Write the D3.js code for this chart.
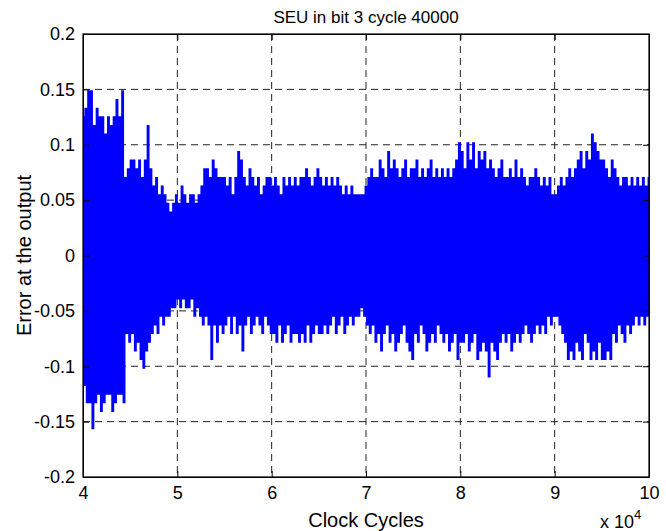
<!DOCTYPE html>
<html>
<head>
<meta charset="utf-8">
<script src="https://cdn.jsdelivr.net/npm/d3@7"></script>
<style>
  body { margin: 0; background: #fff; }
  text { font-family: "Liberation Sans", Arial, Helvetica, sans-serif; fill: #000; }
</style>
</head>
<body>
<div class="chart"></div>
<script>
// error samples, in LSBs (1 LSB = 1/128), one pair per 300 cycles
const posPeak = [
  16,17,19,19,15,17,16,16,14,16,15,16,18,16,19,
  9,10,11,11,10,11,9,11,15,10,
  8,9,7,8,7,6,5,6,
  7,6,8,7,6,7,7,6,7,8,10,10,9,11,10,9,9,
  9,8,9,7,9,12,11,9,8,10,9,8,9,7,8,9,9,
  8,9,8,7,9,8,9,8,9,8,9,9,10,9,8,9,10,
  9,8,9,8,9,8,9,8,7,8,7,8,7,7,7,7,
  8,9,10,9,9,11,10,9,12,10,11,10,9,10,11,9,10,
  10,11,9,10,9,10,11,9,10,9,10,9,10,9,10,11,13,
  12,10,13,11,13,10,12,11,12,10,11,10,9,10,11,9,
  9,10,9,11,9,10,9,8,9,9,10,9,8,9,8,9,7,
  7,8,9,8,9,10,9,10,11,12,10,12,11,14,13,12,11,
  11,10,9,11,10,9,8,9,9,8,9,8,9,8,9,8,9
]
const negPeak = [
  -15,-17,-17,-20,-17,-16,-18,-17,-16,-16,-18,-17,-16,-16,-17,
  -9,-10,-9,-11,-10,-12,-13,-11,-10,-9,
  -8,-9,-7,-8,-7,-7,-6,-6,
  -5,-6,-5,-6,-6,-5,-7,-6,-7,-8,-7,-8,-12,-8,-10,-8,-9,
  -8,-7,-9,-7,-9,-8,-11,-8,-7,-9,-8,-7,-8,-9,-7,-8,-9,
  -9,-10,-8,-10,-9,-8,-10,-9,-9,-10,-9,-10,-8,-10,-9,-8,-9,
  -9,-8,-9,-8,-7,-9,-8,-7,-9,-8,-7,-8,-7,-7,-6,-7,
  -8,-9,-8,-10,-9,-11,-9,-8,-10,-9,-11,-10,-9,-8,-10,-11,-12,
  -9,-10,-8,-9,-11,-10,-9,-10,-8,-9,-10,-9,-11,-10,-9,-12,-10,
  -10,-9,-11,-10,-9,-12,-11,-10,-11,-14,-10,-11,-12,-10,-9,-10,
  -9,-11,-10,-9,-10,-9,-8,-9,-10,-9,-8,-9,-8,-9,-7,-8,-7,
  -7,-8,-9,-10,-12,-11,-12,-10,-11,-12,-9,-10,-12,-11,-12,-10,-12,
  -12,-11,-12,-9,-10,-8,-9,-10,-8,-9,-8,-7,-8,-7,-8,-7,-8
]
const startCycle = 40000
const stepCycles = 300
const lsb = 1 / 128

const xTicks = [40000, 50000, 60000, 70000, 80000, 90000, 100000]
const xTickLabels = ['4', '5', '6', '7', '8', '9', '10']
const yTicks = [-0.2, -0.15, -0.1, -0.05, 0, 0.05, 0.1, 0.15, 0.2]
const yTickLabels = ['-0.2', '-0.15', '-0.1', '-0.05', '0', '0.05', '0.1', '0.15', '0.2']

const width = 666, height = 531
const margin = { top: 34, right: 17, bottom: 54, left: 83 }
const graphWidth = width - margin.left - margin.right
const graphHeight = height - margin.top - margin.bottom

const svg = d3.select('.chart')
  .append('svg')
  .attr('width', width)
  .attr('height', height)

const graph = svg.append('g')
  .attr('transform', `translate(${margin.left}, ${margin.top})`)

const x = d3.scaleLinear()
  .domain([40000, 100000])
  .range([0, graphWidth])

const y = d3.scaleLinear()
  .domain([-0.2, 0.2])
  .range([graphHeight, 0])

// dashed grid
const grid = graph.append('g')

grid.selectAll('line.gx')
  .data(xTicks.slice(1, -1))
  .enter().append('line')
  .attr('class', 'gx')
  .attr('x1', d => x(d)).attr('x2', d => x(d))
  .attr('y1', 0).attr('y2', graphHeight)

grid.selectAll('line.gy')
  .data(yTicks.slice(1, -1))
  .enter().append('line')
  .attr('class', 'gy')
  .attr('x1', 0).attr('x2', graphWidth)
  .attr('y1', d => y(d)).attr('y2', d => y(d))

grid.selectAll('line')
  .attr('stroke', '#222')
  .attr('stroke-width', 1)
  .attr('stroke-dasharray', '7,5')

// signal: positive and negative peak of each 300 cycle slot
const points = []
posPeak.forEach((p, i) => {
  const c = startCycle + i * stepCycles
  points.push({ c: c, v: p * lsb })
  points.push({ c: c + stepCycles / 2, v: negPeak[i] * lsb })
})

svg.append('clipPath')
  .attr('id', 'plotClip')
  .append('rect')
  .attr('width', graphWidth)
  .attr('height', graphHeight)

const line = d3.line()
  .x(d => x(d.c))
  .y(d => y(d.v))
  .curve(d3.curveStep)

graph.append('path')
  .datum(points)
  .attr('clip-path', 'url(#plotClip)')
  .attr('d', line)
  .attr('fill', 'none')
  .attr('stroke', '#0000ff')
  .attr('stroke-width', 1.5)

// axes, ticks point inward
const xAxis = d3.axisBottom(x)
  .tickValues(xTicks)
  .tickFormat((d, i) => xTickLabels[i])
  .tickSizeInner(-6)
  .tickSizeOuter(0)
  .tickPadding(9)

const yAxis = d3.axisLeft(y)
  .tickValues(yTicks)
  .tickFormat((d, i) => yTickLabels[i])
  .tickSizeInner(-6)
  .tickSizeOuter(0)
  .tickPadding(8)

graph.append('g')
  .attr('transform', `translate(0, ${graphHeight})`)
  .call(xAxis)

graph.append('g')
  .call(yAxis)

graph.append('g')
  .call(d3.axisTop(x).tickValues(xTicks).tickFormat('').tickSizeInner(-6).tickSizeOuter(0))

graph.append('g')
  .attr('transform', `translate(${graphWidth}, 0)`)
  .call(d3.axisRight(y).tickValues(yTicks).tickFormat('').tickSizeInner(-6).tickSizeOuter(0))

graph.selectAll('.domain, .tick line')
  .attr('stroke', '#000')
  .attr('stroke-width', 1)

graph.selectAll('.tick text')
  .attr('font-size', 18)
  .attr('fill', '#000')
  .attr('font-family', '"Liberation Sans", Arial, sans-serif')

graph.append('rect')
  .attr('width', graphWidth)
  .attr('height', graphHeight)
  .attr('fill', 'none')
  .attr('stroke', '#000')
  .attr('stroke-width', 1.2)

// labels
svg.append('text')
  .attr('x', margin.left + graphWidth / 2)
  .attr('y', 23)
  .attr('text-anchor', 'middle')
  .attr('font-size', 17)
  .text('SEU in bit 3 cycle 40000')

svg.append('text')
  .attr('x', margin.left + graphWidth / 2)
  .attr('y', 527)
  .attr('text-anchor', 'middle')
  .attr('font-size', 20)
  .text('Clock Cycles')

svg.append('text')
  .attr('transform', `translate(31, ${margin.top + graphHeight / 2}) rotate(-90)`)
  .attr('text-anchor', 'middle')
  .attr('font-size', 20)
  .text('Error at the output')

const expo = svg.append('text')
  .attr('x', 600)
  .attr('y', 528)
  .attr('font-size', 18)
expo.append('tspan').text('x 10')
expo.append('tspan')
  .attr('dy', -9)
  .attr('font-size', 13)
  .text('4')
</script>
</body>
</html>
